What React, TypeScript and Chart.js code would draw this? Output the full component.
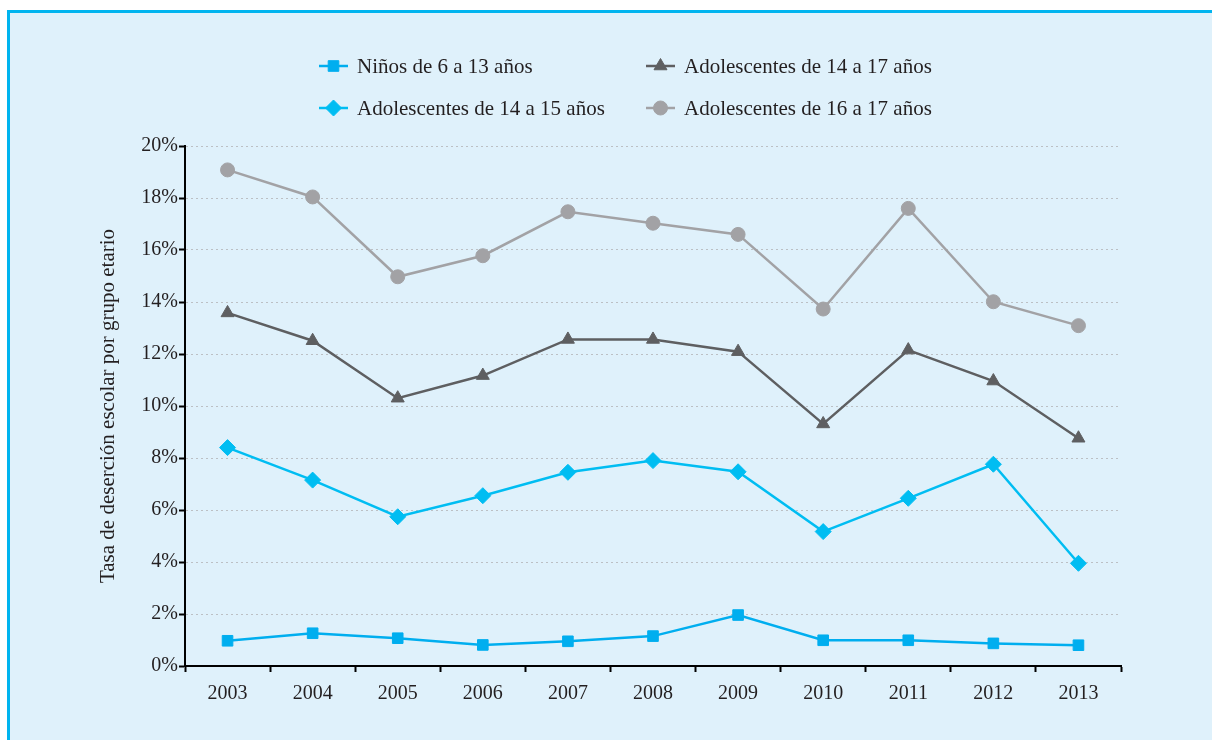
import React, { useEffect, useRef } from 'react';
import { Chart, registerables } from 'chart.js';
import { drawPoint } from 'chart.js/helpers';

Chart.register(...registerables);

// School dropout rate by age group, 2003–2013 (percent)
const years = ['2003', '2004', '2005', '2006', '2007', '2008', '2009', '2010', '2011', '2012', '2013'];
const ninos6a13 = [0.97, 1.26, 1.07, 0.81, 0.95, 1.15, 1.96, 0.99, 0.99, 0.87, 0.8];
const adol14a17 = [13.58, 12.51, 10.3, 11.17, 12.56, 12.56, 12.09, 9.31, 12.15, 10.96, 8.76];
const adol14a15 = [8.4, 7.15, 5.74, 6.55, 7.45, 7.9, 7.47, 5.17, 6.45, 7.76, 3.95];
const adol16a17 = [19.08, 18.04, 14.97, 15.78, 17.47, 17.03, 16.6, 13.73, 17.6, 14.01, 13.09];

const seriesLabels = [
  'Niños de 6 a 13 años',
  'Adolescentes de 14 a 17 años',
  'Adolescentes de 14 a 15 años',
  'Adolescentes de 16 a 17 años',
];
const yAxisTitle = 'Tasa de deserción escolar por grupo etario';
const yMin = 0;
const yMax = 20;
const yStep = 2;

const FONT = '"Liberation Serif", "Times New Roman", serif';
const TEXT = '#231f20';

// Two-column legend laid out above the plot
const legendSlots = [
  { x: 319, y: 66 },
  { x: 646, y: 66 },
  { x: 319, y: 108 },
  { x: 646, y: 108 },
];

const gridLegend = {
  id: 'gridLegend',
  afterDraw(chart: any) {
    const ctx = chart.ctx as CanvasRenderingContext2D;
    chart.data.datasets.forEach((ds: any, i: number) => {
      const slot = legendSlots[i];
      if (!slot) return;
      ctx.save();
      ctx.strokeStyle = ds.borderColor;
      ctx.lineWidth = 2.5;
      ctx.beginPath();
      ctx.moveTo(slot.x, slot.y);
      ctx.lineTo(slot.x + 29, slot.y);
      ctx.stroke();
      ctx.fillStyle = ds.pointBackgroundColor;
      ctx.strokeStyle = ds.pointBorderColor;
      ctx.lineWidth = 1;
      drawPoint(ctx, { pointStyle: ds.pointStyle, rotation: 0, radius: ds.pointRadius, borderWidth: 1 } as any, slot.x + 14.5, slot.y);
      ctx.fillStyle = TEXT;
      ctx.font = `21px ${FONT}`;
      ctx.textBaseline = 'middle';
      ctx.textAlign = 'left';
      ctx.fillText(ds.label, slot.x + 38, slot.y + 1);
      ctx.restore();
    });
  },
};

function series(label: string, data: number[], color: string, style: string, radius: number) {
  return {
    label,
    data,
    borderColor: color,
    backgroundColor: color,
    pointBackgroundColor: color,
    pointBorderColor: color,
    pointBorderWidth: 1,
    pointStyle: style,
    pointRadius: radius,
    borderWidth: 2.5,
    tension: 0,
    fill: false,
  };
}

export default function App() {
  const canvasRef = useRef<HTMLCanvasElement | null>(null);

  useEffect(() => {
    if (!canvasRef.current) return;
    const chart = new Chart(canvasRef.current, {
      type: 'line',
      data: {
        labels: years,
        datasets: [
          series(seriesLabels[0], ninos6a13, '#00aeef', 'rect', 7.5),
          series(seriesLabels[1], adol14a17, '#5e5f61', 'triangle', 7.5),
          series(seriesLabels[2], adol14a15, '#00bdf2', 'rectRot', 8),
          series(seriesLabels[3], adol16a17, '#a2a2a5', 'circle', 7),
        ] as any,
      },
      options: {
        responsive: false,
        animation: false,
        events: [],
        layout: { padding: { top: 146, right: 91, bottom: 0, left: 0 } },
        plugins: {
          legend: { display: false },
          tooltip: { enabled: false },
        },
        scales: {
          x: {
            type: 'category',
            offset: true,
            grid: {
              offset: true,
              drawOnChartArea: false,
              drawTicks: true,
              tickLength: 6,
              tickColor: '#000',
              tickWidth: 2,
            },
            border: { display: true, color: '#000', width: 2 },
            ticks: { color: TEXT, font: { family: FONT, size: 20 }, padding: 10, maxRotation: 0 },
            afterFit(scale: any) {
              scale.height = 74;
            },
          },
          y: {
            min: yMin,
            max: yMax,
            grid: {
              color: '#bcc0c4',
              lineWidth: 1,
              drawTicks: true,
              tickLength: 6,
              tickColor: '#000',
              tickWidth: 2,
              tickBorderDash: [],
            },
            border: { display: true, color: '#000', width: 2, dash: [2, 3] },
            ticks: {
              stepSize: yStep,
              color: TEXT,
              font: { family: FONT, size: 20 },
              padding: 1,
              callback: (v: any) => `${v}%`,
            },
            title: {
              display: true,
              text: yAxisTitle,
              color: TEXT,
              font: { family: FONT, size: 21 },
              padding: { top: 96, bottom: 0 },
            },
            afterFit(scale: any) {
              scale.width = 185;
            },
          },
        },
      },
      plugins: [gridLegend],
    } as any);
    return () => chart.destroy();
  }, []);

  return (
    <div style={{ position: 'fixed', left: 0, top: 0, width: 1212, height: 740, overflow: 'hidden', background: '#ffffff' }}>
      <div
        style={{
          position: 'absolute',
          left: 7,
          top: 10,
          width: 1240,
          height: 760,
          background: '#dff1fb',
          borderTop: '3px solid #00b4ef',
          borderLeft: '3px solid #00b4ef',
        }}
      />
      <canvas
        ref={canvasRef}
        width={1212}
        height={740}
        style={{ position: 'absolute', left: 0, top: 0, width: 1212, height: 740, display: 'block' }}
      />
    </div>
  );
}
